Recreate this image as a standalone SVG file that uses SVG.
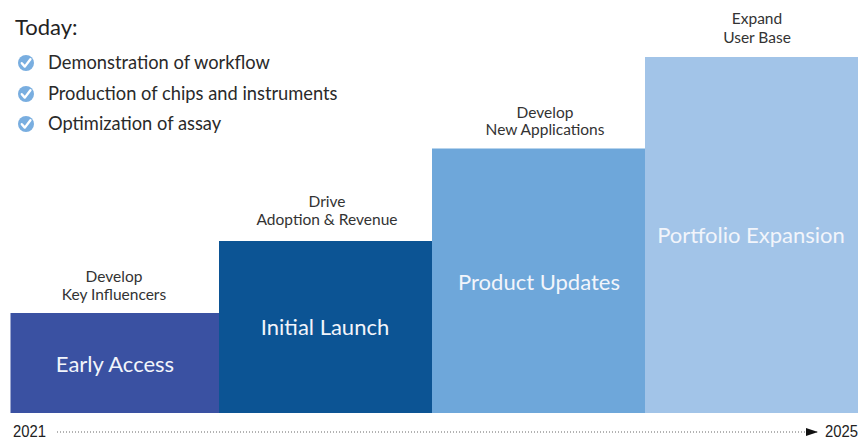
<svg xmlns="http://www.w3.org/2000/svg" width="859" height="439" viewBox="0 0 859 439">
<style>
.lbl{font-family:Lato,"Open Sans","Liberation Sans",sans-serif;font-size:15.5px;fill:#333;text-anchor:middle}
.big{font-family:Lato,"Open Sans","Liberation Sans",sans-serif;font-size:22px;fill:#f2f5fb;text-anchor:middle}
.item{font-family:Lato,"Open Sans","Liberation Sans",sans-serif;font-size:18.3px;fill:#2a2a2a}
.yr{font-family:"Liberation Sans",Arial,sans-serif;font-size:16px;fill:#222}
</style>
<defs>
<g id="chk">
<circle r="8" fill="#79aee0"/>
<path d="M-4.2 0.2 L-1.2 3.6 L4.4 -3.8" fill="none" stroke="#fff" stroke-width="2.4" stroke-linecap="round" stroke-linejoin="round"/>
</g>
<marker id="ah" markerWidth="12" markerHeight="10" refX="11" refY="4" orient="auto" markerUnits="userSpaceOnUse">
<path d="M0 0 L12 4 L0 8 Z" fill="#111"/>
</marker>
</defs>
<rect width="859" height="439" fill="#fff"/>
<g id="today">
<text x="15" y="35" font-family="Lato,'Open Sans','Liberation Sans',sans-serif" font-size="22" fill="#222">Today:</text>
<use href="#chk" x="26" y="63"/>
<text class="item" x="48" y="69">Demonstration of workflow</text>
<use href="#chk" x="26" y="94"/>
<text class="item" x="48" y="100">Production of chips and instruments</text>
<use href="#chk" x="26" y="124"/>
<text class="item" x="48" y="130">Optimization of assay</text>
</g>
<g id="early-access">
<rect x="10.5" y="313" width="209" height="100" fill="#3a51a2"/>
<text class="big" x="115" y="372">Early Access</text>
<text class="lbl" x="114" y="282">Develop</text>
<text class="lbl" x="114" y="300">Key Influencers</text>
</g>
<g id="initial-launch">
<rect x="219" y="241" width="213" height="172" fill="#0c5494"/>
<text class="big" x="325" y="335">Initial Launch</text>
<text class="lbl" x="327" y="207">Drive</text>
<text class="lbl" x="327" y="225">Adoption &amp; Revenue</text>
</g>
<g id="product-updates">
<rect x="432" y="148.5" width="213" height="264.5" fill="#6ea7da"/>
<text class="big" x="539" y="290">Product Updates</text>
<text class="lbl" x="545" y="118">Develop</text>
<text class="lbl" x="545" y="135">New Applications</text>
</g>
<g id="portfolio-expansion">
<rect x="645" y="57" width="213" height="356" fill="#a2c4e8"/>
<text class="big" x="751" y="243">Portfolio Expansion</text>
<text class="lbl" x="757" y="24">Expand</text>
<text class="lbl" x="757" y="43">User Base</text>
</g>
<g id="connectors">
<line x1="57" y1="432" x2="817" y2="432" stroke="#666" stroke-width="1" stroke-dasharray="1 2" marker-end="url(#ah)"/>
</g>
<g id="timeline">
<text class="yr" x="13" y="436.5" textLength="33" lengthAdjust="spacingAndGlyphs">2021</text>
<text class="yr" x="825" y="436.5" textLength="33" lengthAdjust="spacingAndGlyphs">2025</text>
</g>
</svg>
